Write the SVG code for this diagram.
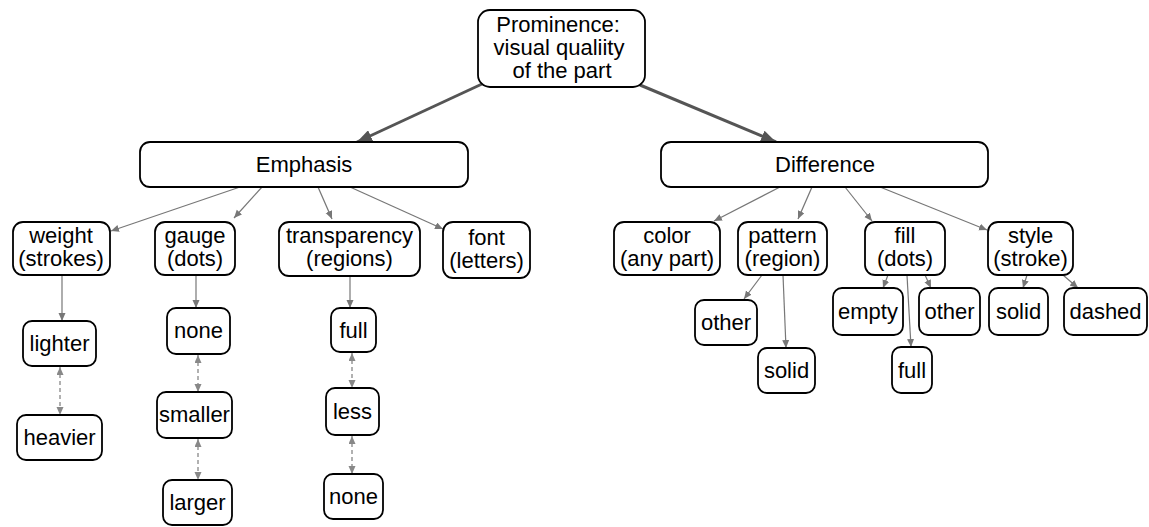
<svg xmlns="http://www.w3.org/2000/svg" width="1149" height="527" viewBox="0 0 1149 527">
<defs>
<marker id="big" markerUnits="userSpaceOnUse" markerWidth="16" markerHeight="12" refX="15" refY="6" orient="auto"><path d="M0,0 L15,6 L0,12 z" fill="#555"/></marker>
<marker id="sm" markerUnits="userSpaceOnUse" markerWidth="9" markerHeight="8" refX="8" refY="3.5" orient="auto-start-reverse"><path d="M0,0 L8,3.5 L0,7 z" fill="#777"/></marker>
<marker id="dm" markerUnits="userSpaceOnUse" markerWidth="9" markerHeight="8" refX="8" refY="3.5" orient="auto-start-reverse"><path d="M0,0 L8,3.5 L0,7 z" fill="#888"/></marker>
</defs>
<style>
.n rect{fill:#fff;stroke:#000;stroke-width:1.8}
text{font-family:"Liberation Sans",Arial,sans-serif;font-size:22px;fill:#000;text-anchor:middle}
.big{stroke:#555;stroke-width:3;fill:none;marker-end:url(#big)}
.th{stroke:#777;stroke-width:1.2;fill:none;marker-end:url(#sm)}
.da{stroke:#888;stroke-width:1.3;fill:none;stroke-dasharray:4 3;marker-start:url(#dm);marker-end:url(#dm)}
</style>
<rect width="1149" height="527" fill="#fff"/>
<g id="connectors">
<line class="big" x1="482" y1="84" x2="357" y2="142"/>
<line class="big" x1="640" y1="85" x2="776" y2="142"/>
<line class="th" x1="240" y1="187" x2="111" y2="231"/>
<line class="th" x1="262" y1="187" x2="234" y2="218"/>
<line class="th" x1="318" y1="187" x2="332" y2="219"/>
<line class="th" x1="350" y1="187" x2="443" y2="229"/>
<line class="th" x1="780" y1="187" x2="714" y2="221"/>
<line class="th" x1="812" y1="187" x2="798" y2="219"/>
<line class="th" x1="845" y1="187" x2="872" y2="221"/>
<line class="th" x1="880" y1="187" x2="987" y2="230"/>
<line class="th" x1="62" y1="275" x2="62" y2="321"/>
<line class="th" x1="196" y1="275" x2="196" y2="308"/>
<line class="th" x1="350" y1="276" x2="350" y2="308"/>
<line class="th" x1="762" y1="275" x2="744" y2="299"/>
<line class="th" x1="783" y1="275" x2="786" y2="348"/>
<line class="th" x1="888" y1="275" x2="883" y2="288"/>
<line class="th" x1="907" y1="275" x2="911" y2="347"/>
<line class="th" x1="925" y1="275" x2="931" y2="288"/>
<line class="th" x1="1027" y1="275" x2="1023" y2="288"/>
<line class="th" x1="1063" y1="275" x2="1078" y2="288"/>
<line class="da" x1="60" y1="367" x2="60" y2="415"/>
<line class="da" x1="198" y1="355" x2="198" y2="392"/>
<line class="da" x1="198" y1="439" x2="198" y2="480"/>
<line class="da" x1="352" y1="353" x2="352" y2="388"/>
<line class="da" x1="352" y1="436" x2="352" y2="474"/>
</g>
<g id="prominence" class="n"><rect x="478" y="10" width="167" height="77" rx="12"/><text x="558" y="32">Prominence:</text><text x="559" y="55">visual qualiity</text><text x="562" y="78">of the part</text></g>
<g id="emphasis" class="n"><rect x="140" y="142" width="328" height="45" rx="10"/><text x="304" y="172">Emphasis</text></g>
<g id="difference" class="n"><rect x="661" y="142" width="327" height="45" rx="10"/><text x="825" y="172">Difference</text></g>
<g id="weight" class="n"><rect x="13" y="222" width="97" height="53" rx="10"/><text x="61" y="243">weight</text><text x="61" y="266">(strokes)</text></g>
<g id="gauge" class="n"><rect x="155" y="222" width="80" height="53" rx="10"/><text x="195" y="243">gauge</text><text x="195" y="266">(dots)</text></g>
<g id="transparency" class="n"><rect x="279" y="222" width="141" height="54" rx="10"/><text x="349.5" y="243">transparency</text><text x="349.5" y="266">(regions)</text></g>
<g id="font" class="n"><rect x="443" y="222" width="87" height="56" rx="10"/><text x="486.5" y="245">font</text><text x="486.5" y="268">(letters)</text></g>
<g id="color" class="n"><rect x="614" y="222" width="106" height="53" rx="10"/><text x="667" y="243">color</text><text x="667" y="266">(any part)</text></g>
<g id="pattern" class="n"><rect x="738" y="222" width="89" height="53" rx="10"/><text x="782.5" y="243">pattern</text><text x="782.5" y="266">(region)</text></g>
<g id="fill" class="n"><rect x="865" y="222" width="80" height="53" rx="10"/><text x="905" y="243">fill</text><text x="905" y="266">(dots)</text></g>
<g id="style" class="n"><rect x="988" y="222" width="85" height="53" rx="10"/><text x="1030.5" y="243">style</text><text x="1030.5" y="266">(stroke)</text></g>
<g id="lighter" class="n"><rect x="23" y="321" width="73" height="45" rx="9"/><text x="59.5" y="351">lighter</text></g>
<g id="heavier" class="n"><rect x="17" y="415" width="85" height="45" rx="9"/><text x="59.5" y="445">heavier</text></g>
<g id="g-none" class="n"><rect x="167" y="308" width="63" height="46" rx="9"/><text x="198.5" y="338">none</text></g>
<g id="smaller" class="n"><rect x="157" y="392" width="75" height="46" rx="9"/><text x="194.5" y="422">smaller</text></g>
<g id="larger" class="n"><rect x="163" y="480" width="69" height="45" rx="9"/><text x="197.5" y="510">larger</text></g>
<g id="t-full" class="n"><rect x="331" y="308" width="45" height="44" rx="9"/><text x="353.5" y="338">full</text></g>
<g id="less" class="n"><rect x="326" y="388" width="53" height="47" rx="9"/><text x="352.5" y="419">less</text></g>
<g id="t-none" class="n"><rect x="324" y="474" width="59" height="45" rx="9"/><text x="353.5" y="504">none</text></g>
<g id="p-other" class="n"><rect x="695" y="300" width="62" height="45" rx="9"/><text x="726" y="330">other</text></g>
<g id="p-solid" class="n"><rect x="758" y="348" width="57" height="45" rx="9"/><text x="786.5" y="378">solid</text></g>
<g id="empty" class="n"><rect x="833" y="288" width="70" height="47" rx="9"/><text x="868" y="319">empty</text></g>
<g id="f-other" class="n"><rect x="919" y="288" width="61" height="47" rx="9"/><text x="949.5" y="319">other</text></g>
<g id="f-full" class="n"><rect x="892" y="347" width="40" height="46" rx="9"/><text x="912" y="378">full</text></g>
<g id="s-solid" class="n"><rect x="989" y="288" width="59" height="47" rx="9"/><text x="1018.5" y="319">solid</text></g>
<g id="dashed" class="n"><rect x="1064" y="288" width="83" height="47" rx="9"/><text x="1105.5" y="319">dashed</text></g>
</svg>
